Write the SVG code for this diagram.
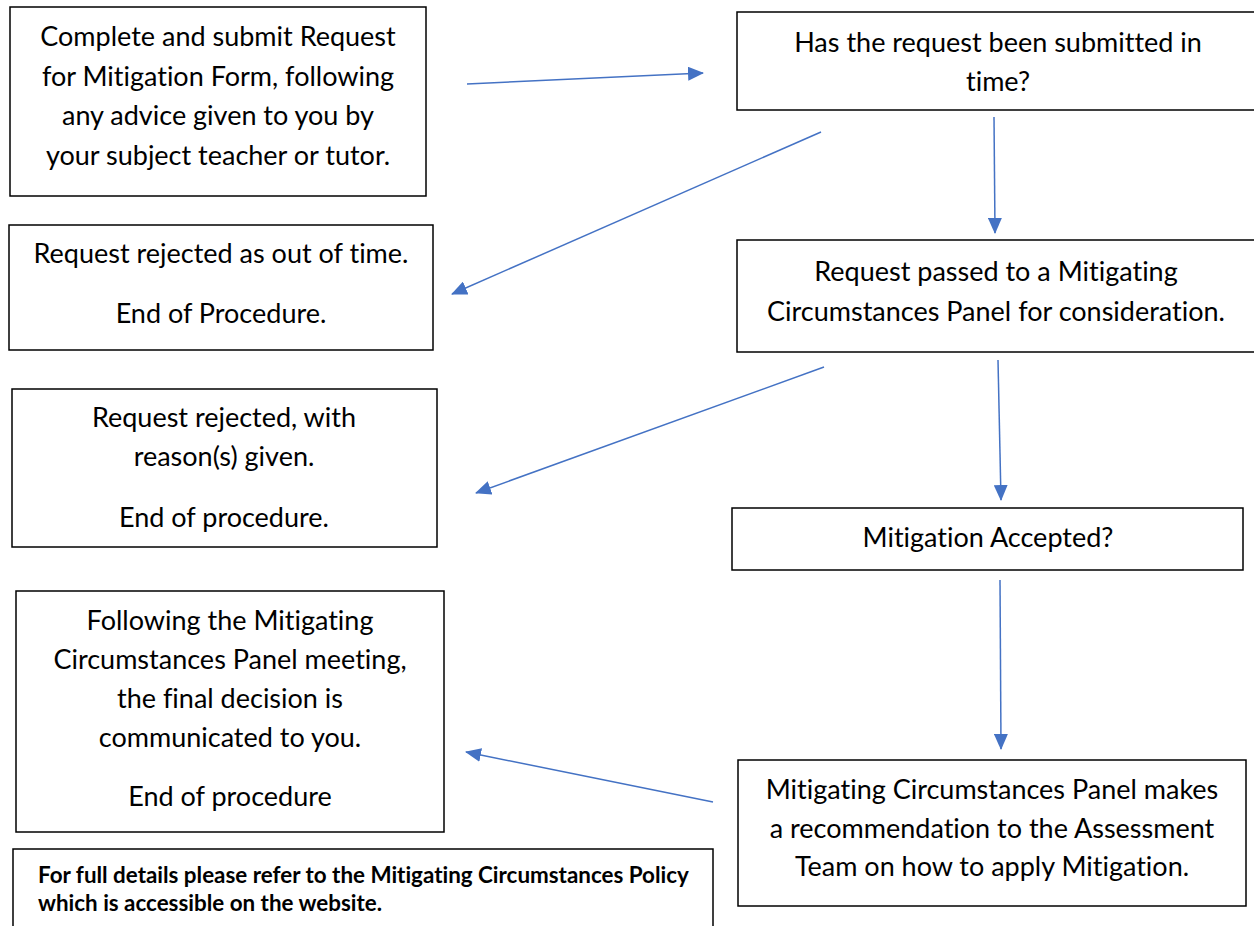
<svg xmlns="http://www.w3.org/2000/svg" width="1254" height="926" viewBox="0 0 1254 926">
<defs>
<style>
.box{fill:#fff;stroke:#000;stroke-width:1.5}
.t{font-family:Lato,"Liberation Sans",sans-serif;font-size:27px;fill:#000;text-anchor:middle;font-variant-ligatures:none}
.b{font-family:Lato,"Liberation Sans",sans-serif;font-size:22.4px;font-weight:bold;fill:#000;font-variant-ligatures:none}
.c{stroke:#4472C4;stroke-width:1.5;fill:none;marker-end:url(#ah)}
</style>
<marker id="ah" markerUnits="userSpaceOnUse" markerWidth="16" markerHeight="14" refX="15" refY="7" orient="auto">
<path d="M0,0 L16,7 L0,14 Z" fill="#4472C4"/>
</marker>
</defs>
<rect width="1254" height="926" fill="#fff"/>
<g id="n1"><rect class="box" x="10" y="7" width="416" height="189"/>
<text class="t" x="218" y="46">Complete and submit Request</text>
<text class="t" x="218" y="86">for Mitigation Form, following</text>
<text class="t" x="218" y="125">any advice given to you by</text>
<text class="t" x="218" y="165">your subject teacher or tutor.</text></g>
<g id="n2"><rect class="box" x="737" y="12" width="520" height="98"/>
<text class="t" x="998" y="52">Has the request been submitted in</text>
<text class="t" x="998" y="91">time?</text></g>
<g id="n3"><rect class="box" x="9" y="225" width="424" height="125"/>
<text class="t" x="221" y="263">Request rejected as out of time.</text>
<text class="t" x="221" y="323">End of Procedure.</text></g>
<g id="n4"><rect class="box" x="737" y="240" width="520" height="112"/>
<text class="t" x="996" y="281">Request passed to a Mitigating</text>
<text class="t" x="996" y="321">Circumstances Panel for consideration.</text></g>
<g id="n5"><rect class="box" x="12" y="389" width="425" height="158"/>
<text class="t" x="224" y="427">Request rejected, with</text>
<text class="t" x="224" y="466">reason(s) given.</text>
<text class="t" x="224" y="527">End of procedure.</text></g>
<g id="n6"><rect class="box" x="732" y="508" width="511" height="62"/>
<text class="t" x="988" y="547">Mitigation Accepted?</text></g>
<g id="n7"><rect class="box" x="16" y="591" width="428" height="241"/>
<text class="t" x="230" y="630">Following the Mitigating</text>
<text class="t" x="230" y="669">Circumstances Panel meeting,</text>
<text class="t" x="230" y="708">the final decision is</text>
<text class="t" x="230" y="747">communicated to you.</text>
<text class="t" x="230" y="806">End of procedure</text></g>
<g id="n8"><rect class="box" x="738" y="760" width="508" height="146"/>
<text class="t" x="992" y="799">Mitigating Circumstances Panel makes</text>
<text class="t" x="992" y="838">a recommendation to the Assessment</text>
<text class="t" x="992" y="876">Team on how to apply Mitigation.</text></g>
<g id="n9"><rect class="box" x="13" y="849" width="700" height="90"/>
<text class="b" x="38" y="883">For full details please refer to the Mitigating Circumstances Policy</text>
<text class="b" x="38" y="911">which is accessible on the website.</text></g>
<g id="connectors">
<line class="c" x1="467" y1="84" x2="703" y2="73"/>
<line class="c" x1="821" y1="132" x2="452" y2="294"/>
<line class="c" x1="994" y1="117" x2="995" y2="233"/>
<line class="c" x1="824" y1="367" x2="476" y2="493"/>
<line class="c" x1="998" y1="360" x2="1001" y2="500"/>
<line class="c" x1="1000" y1="580" x2="1001" y2="749"/>
<line class="c" x1="713" y1="802" x2="466" y2="752"/>
</g>
</svg>
